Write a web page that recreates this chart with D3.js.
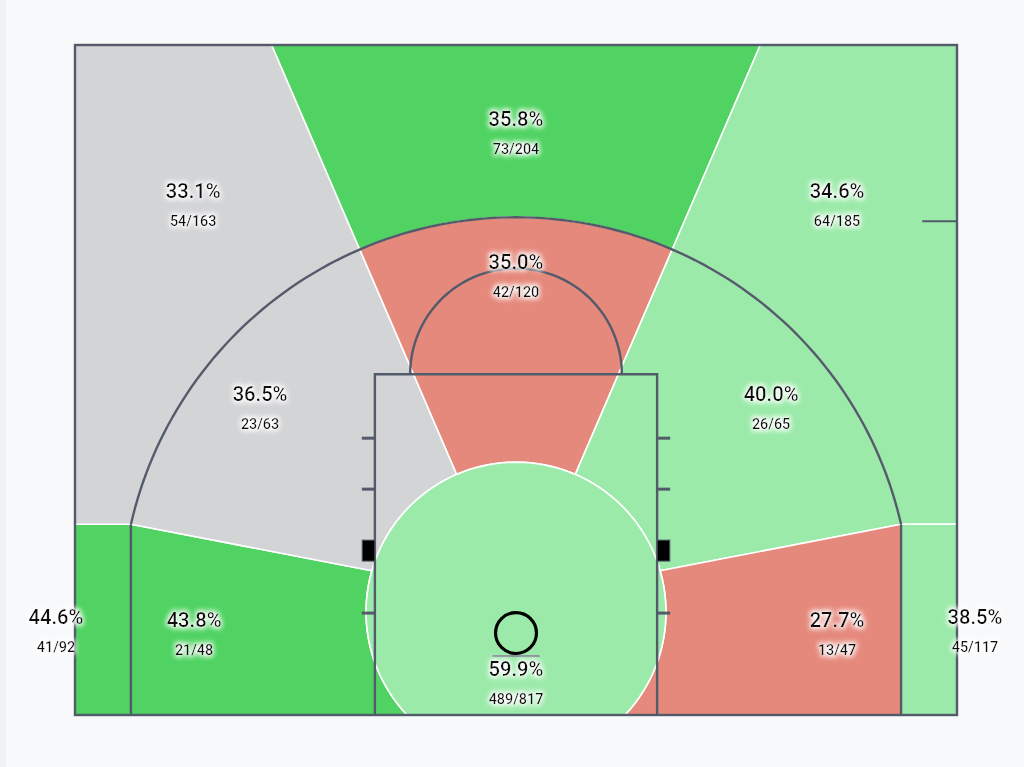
<!DOCTYPE html>
<html>
<head>
<meta charset="utf-8">
<script src="https://cdn.jsdelivr.net/npm/d3@7"></script>
<style>
  html, body { margin: 0; padding: 0; background: #f8f9fb; }
  body { border-left: 6px solid #f0f1f3; box-sizing: border-box; width: 1024px; height: 767px; overflow: hidden; }
  #shot-chart { position: absolute; left: 0; top: 0; }
  .pct { font-family: Roboto, sans-serif; font-weight: 500; font-size: 21px; fill: #111; }
  .frac { font-family: Roboto, sans-serif; font-weight: 500; font-size: 15px; fill: #111; }
</style>
</head>
<body>
<svg id="shot-chart"></svg>
<script>
// shot zones, left to right: three-pointers first, then mid range, then the rim
const ZONES = ['Left Corner 3', 'Left Above Break 3', 'Top Of Key 3', 'Right Above Break 3', 'Right Corner 3',
  'Left Baseline Mid', 'Left Wing Mid', 'Top Mid', 'Right Wing Mid', 'Right Baseline Mid', 'Restricted Area'];
const MADE = [41, 54, 73, 64, 45, 21, 23, 42, 26, 13, 489];
const ATTEMPTS = [92, 163, 204, 185, 117, 48, 63, 120, 65, 47, 817];
const RATING = ['hot', 'avg', 'hot', 'warm', 'warm', 'hot', 'avg', 'cold', 'warm', 'cold', 'warm'];

const RATING_COLORS = {
  'hot': '#50d362',
  'warm': '#9beaa9',
  'avg': '#d3d4d6',
  'cold': '#e5897c'
}

let width = 1024;
let height = 767;
let margin = { top: 45, right: 67, bottom: 52, left: 75 };

// court geometry, feet (x from the middle, y up from the baseline)
const COURT_W = 50, COURT_TOP = 38;
const CTR = [0, 5.84];          // centre of the zone arcs
const R3 = 22.39;                // three point arc
const RR = 8.5;                  // restricted circle
const CORNER_X = 21.83;
const WEDGE = 23.3;              // half angle of the top wedge, degrees from vertical
const SPLIT = 16;                // baseline / wing split on the circle, degrees
const LANE_W = 8, LANE_H = 19.33, FT_R = 6;

let x = d3.scaleLinear().domain([-COURT_W / 2, COURT_W / 2]).range([margin.left, width - margin.right]);
let y = d3.scaleLinear().domain([0, COURT_TOP]).range([height - margin.bottom, margin.top]);
let k = x(1) - x(0);

let svg = d3.select('#shot-chart')
  .attr('width', width)
  .attr('height', height);

const rad = d => d * Math.PI / 180;
const deg = r => r * 180 / Math.PI;

function arcPts(c, r, a0, a1, n = 60) {
  return d3.range(n + 1).map(i => {
    let a = rad(a0 + (a1 - a0) * i / n);
    return [c[0] + r * Math.cos(a), c[1] + r * Math.sin(a)];
  });
}

let cornerY = CTR[1] + Math.sqrt(R3 * R3 - CORNER_X * CORNER_X);
let cornerA = deg(Math.atan2(cornerY - CTR[1], CORNER_X));        // right side angle
let baseA = -deg(Math.asin(CTR[1] / RR));                          // circle meets baseline
let baseX = Math.sqrt(RR * RR - CTR[1] * CTR[1]);
let aR = 90 - WEDGE, aL = 90 + WEDGE;
let topX = (COURT_TOP - CTR[1]) * Math.tan(rad(WEDGE));

const SHAPES = {
  'Left Corner 3': [[-25, 0], [-CORNER_X, 0], [-CORNER_X, cornerY], [-25, cornerY]],
  'Right Corner 3': [[25, 0], [CORNER_X, 0], [CORNER_X, cornerY], [25, cornerY]],
  'Left Above Break 3': [[-25, cornerY], [-CORNER_X, cornerY], ...arcPts(CTR, R3, 180 - cornerA, aL), [-topX, COURT_TOP], [-25, COURT_TOP]],
  'Top Of Key 3': [[-topX, COURT_TOP], ...arcPts(CTR, R3, aL, aR), [topX, COURT_TOP]],
  'Right Above Break 3': [[25, cornerY], [CORNER_X, cornerY], ...arcPts(CTR, R3, cornerA, aR), [topX, COURT_TOP], [25, COURT_TOP]],
  'Left Baseline Mid': [[-CORNER_X, cornerY], [-CORNER_X, 0], [-baseX, 0], ...arcPts(CTR, RR, 180 - baseA, 180 - SPLIT)],
  'Left Wing Mid': [...arcPts(CTR, RR, aL, 180 - SPLIT), ...arcPts(CTR, R3, 180 - cornerA, aL)],
  'Top Mid': [...arcPts(CTR, RR, aR, aL), ...arcPts(CTR, R3, aL, aR)],
  'Right Wing Mid': [...arcPts(CTR, RR, SPLIT, aR), ...arcPts(CTR, R3, aR, cornerA)],
  'Right Baseline Mid': [[CORNER_X, cornerY], ...arcPts(CTR, RR, SPLIT, baseA), [baseX, 0], [CORNER_X, 0]],
  'Restricted Area': arcPts(CTR, RR, baseA, 180 - baseA, 90)
}

// where each zone puts its label (feet)
const LABEL_AT = {
  'Left Corner 3': [-26.08, 5.61],
  'Left Above Break 3': [-18.3, 29.72],
  'Top Of Key 3': [0, 33.84],
  'Right Above Break 3': [18.2, 29.72],
  'Right Corner 3': [26.02, 5.61],
  'Left Baseline Mid': [-18.25, 5.44],
  'Left Wing Mid': [-14.51, 18.25],
  'Top Mid': [0, 25.74],
  'Right Wing Mid': [14.46, 18.25],
  'Right Baseline Mid': [18.2, 5.44],
  'Restricted Area': [0, 2.66]
}

let zoneData = ZONES.map((z, i) => ({
  zone: z, made: MADE[i], att: ATTEMPTS[i], rating: RATING[i]
}));

let line = d3.line().x(d => x(d[0])).y(d => y(d[1]));

let defs = svg.append('defs');
defs.append('clipPath').attr('id', 'court-clip')
  .append('rect')
  .attr('x', x(-25)).attr('y', y(COURT_TOP))
  .attr('width', x(25) - x(-25)).attr('height', y(0) - y(COURT_TOP));

let glow = defs.append('filter').attr('id', 'glow')
  .attr('x', '-30%').attr('y', '-40%').attr('width', '160%').attr('height', '180%');
glow.append('feMorphology').attr('in', 'SourceAlpha').attr('operator', 'dilate').attr('radius', 1.5).attr('result', 'd');
glow.append('feGaussianBlur').attr('in', 'd').attr('stdDeviation', 2.5).attr('result', 'b');
glow.append('feFlood').attr('flood-color', '#ffffff').attr('flood-opacity', 1);
glow.append('feComposite').attr('in2', 'b').attr('operator', 'in').attr('result', 'g');
let merge = glow.append('feMerge');
merge.append('feMergeNode').attr('in', 'g');
merge.append('feMergeNode').attr('in', 'SourceGraphic');

// zones
svg.append('g')
  .attr('clip-path', 'url(#court-clip)')
  .selectAll('path')
  .data(zoneData)
  .enter()
  .append('path')
    .attr('d', d => line(SHAPES[d.zone]) + 'Z')
    .attr('fill', d => RATING_COLORS[d.rating])
    .attr('stroke', '#ffffff')
    .attr('stroke-width', 1.6)
    .attr('stroke-linejoin', 'round');

// court lines
let LINE = '#535b6a';
let court = svg.append('g')
  .attr('fill', 'none')
  .attr('stroke', LINE)
  .attr('stroke-width', 2.4);

court.append('path').attr('d', line(arcPts(CTR, R3, cornerA, 180 - cornerA, 120)));
court.append('path').attr('d', line([[-CORNER_X, 0], [-CORNER_X, cornerY]]));
court.append('path').attr('d', line([[CORNER_X, 0], [CORNER_X, cornerY]]));
court.append('path').attr('d', line([[-LANE_W, 0], [-LANE_W, LANE_H], [LANE_W, LANE_H], [LANE_W, 0]]));
court.append('path').attr('d', line(arcPts([0, LANE_H], FT_R, 0, 180, 80)));

// lane hash marks
const HASH_Y = [5.78, 12.81, 15.7];
HASH_Y.forEach(h => {
  court.append('path').attr('d', line([[-LANE_W - 0.74, h], [-LANE_W, h]])).attr('stroke-width', 3);
  court.append('path').attr('d', line([[LANE_W, h], [LANE_W + 0.74, h]])).attr('stroke-width', 3);
});
[-1, 1].forEach(s => {
  svg.append('rect')
    .attr('x', s < 0 ? x(-LANE_W - 0.72) : x(LANE_W))
    .attr('y', y(9.92))
    .attr('width', 0.72 * k)
    .attr('height', (9.92 - 8.73) * k)
    .attr('fill', '#000')
    .attr('stroke', LINE)
    .attr('stroke-width', 1);
});

// sideline hash
court.append('path').attr('d', line([[23.03, 28], [25, 28]])).attr('stroke-width', 2);

// border
court.append('rect')
  .attr('x', x(-25)).attr('y', y(COURT_TOP))
  .attr('width', x(25) - x(-25)).attr('height', y(0) - y(COURT_TOP));

// backboard and rim
svg.append('path')
  .attr('d', line([[-1.33, 3.34], [1.33, 3.34]]))
  .attr('stroke', '#8a8f99').attr('stroke-width', 2);
svg.append('circle')
  .attr('cx', x(0)).attr('cy', y(4.65)).attr('r', 1.16 * k)
  .attr('fill', 'none').attr('stroke', '#000').attr('stroke-width', 3.2);

// labels
let labels = svg.append('g')
  .selectAll('g')
  .data(zoneData)
  .enter()
  .append('g')
    .attr('filter', 'url(#glow)')
    .attr('transform', d => `translate(${x(LABEL_AT[d.zone][0])},${y(LABEL_AT[d.zone][1])}) scale(0.96,1)`);

labels.append('text')
  .attr('class', 'pct')
  .attr('text-anchor', 'middle')
  .attr('y', 7.5)
  .text(d => d3.format('.1f')(100 * d.made / d.att) + '%');

labels.append('text')
  .attr('class', 'frac')
  .attr('text-anchor', 'middle')
  .attr('y', 35.5)
  .text(d => `${d.made}/${d.att}`);
</script>
</body>
</html>
